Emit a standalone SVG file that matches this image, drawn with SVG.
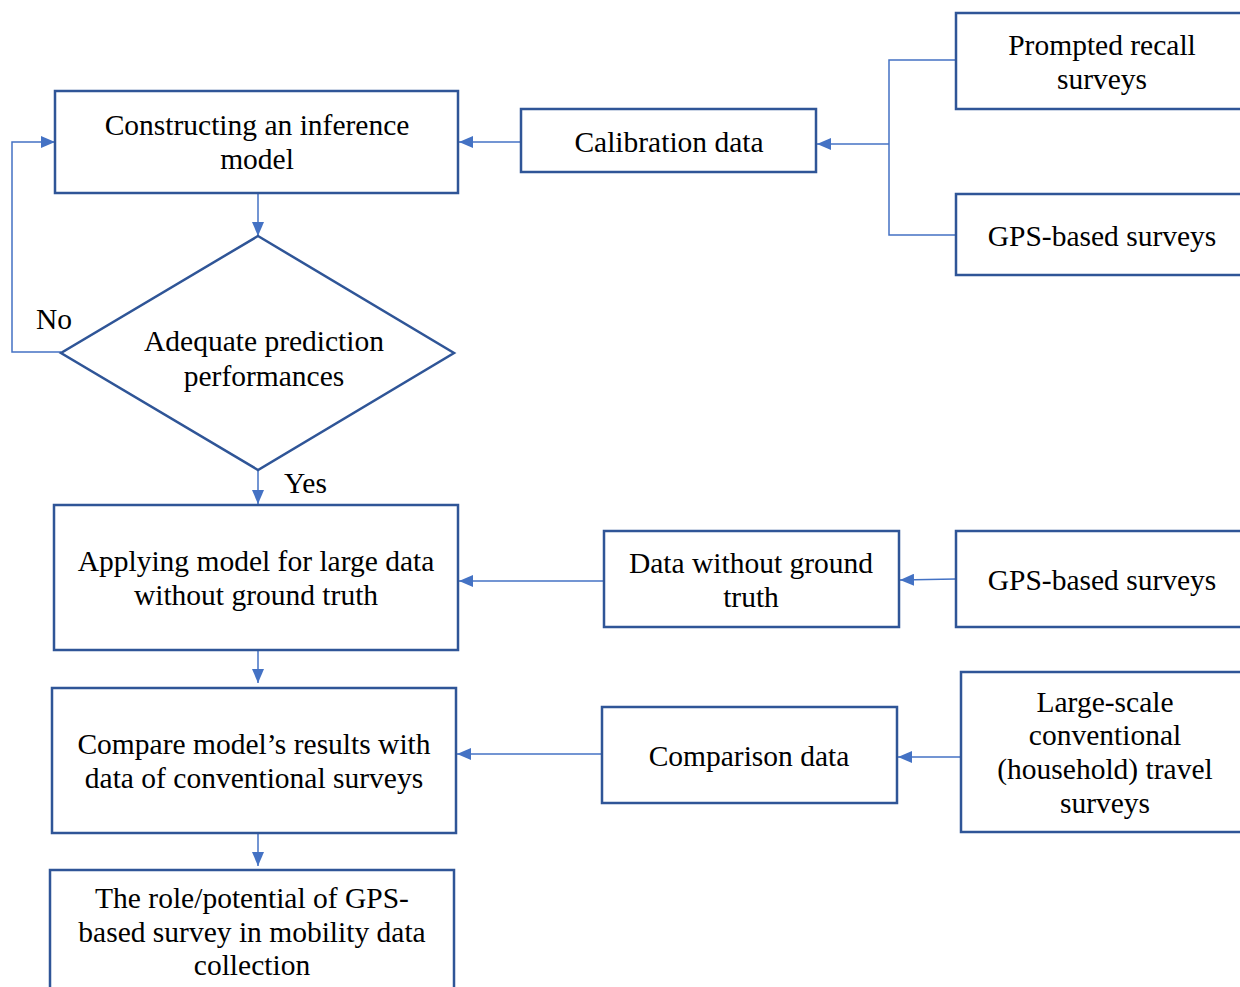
<svg xmlns="http://www.w3.org/2000/svg" width="1240" height="987" viewBox="0 0 1240 987">
  <style>
    .box { fill: #ffffff; stroke: #2F5597; stroke-width: 2.5; }
    .conn { fill: none; stroke: #4472C4; stroke-width: 1.5; }
    .lbl { font-family: "Liberation Serif", "Times New Roman", serif; font-size: 29.5px; fill: #000000; text-anchor: middle; }
    .tag { font-family: "Liberation Serif", "Times New Roman", serif; font-size: 29.5px; fill: #000000; }
  </style>
  <defs>
    <marker id="arrow" viewBox="0 0 14 12" refX="14" refY="6" markerWidth="14" markerHeight="12" markerUnits="userSpaceOnUse" orient="auto">
      <path d="M0,0 L14,6 L0,12 Z" fill="#4472C4"/>
    </marker>
  </defs>
  <rect width="1240" height="987" fill="#ffffff"/>

  <!-- connectors -->
  <g id="connectors">
    <!-- survey branches into calibration data -->
    <path class="conn" d="M956,60 H889 V235 H956"/>
    <path class="conn" d="M889,144 H817" marker-end="url(#arrow)"/>
    <!-- calibration data to inference model -->
    <path class="conn" d="M521,142 H459" marker-end="url(#arrow)"/>
    <!-- inference model to decision -->
    <path class="conn" d="M258,193 V236" marker-end="url(#arrow)"/>
    <!-- "No" loop back -->
    <path class="conn" d="M61,352 H12 V142 H55" marker-end="url(#arrow)"/>
    <!-- "Yes" down -->
    <path class="conn" d="M258,470 V504" marker-end="url(#arrow)"/>
    <!-- GPS surveys to data without ground truth -->
    <path class="conn" d="M956,579 L900,580" marker-end="url(#arrow)"/>
    <!-- data without ground truth to applying model -->
    <path class="conn" d="M604,581 H459" marker-end="url(#arrow)"/>
    <!-- applying model to compare -->
    <path class="conn" d="M258,650 V683" marker-end="url(#arrow)"/>
    <!-- travel surveys to comparison data -->
    <path class="conn" d="M961,757 H898" marker-end="url(#arrow)"/>
    <!-- comparison data to compare -->
    <path class="conn" d="M602,754 H457" marker-end="url(#arrow)"/>
    <!-- compare to final box -->
    <path class="conn" d="M258,833 V866" marker-end="url(#arrow)"/>
  </g>

  <g id="inference-model">
    <rect class="box" x="55" y="91" width="403" height="102"/>
    <text class="lbl" x="257" y="135">Constructing an inference</text>
    <text class="lbl" x="257" y="169">model</text>
  </g>

  <g id="calibration-data">
    <rect class="box" x="521" y="109" width="295" height="63"/>
    <text class="lbl" x="669" y="152">Calibration data</text>
  </g>

  <g id="prompted-recall">
    <rect class="box" x="956" y="13" width="300" height="96"/>
    <text class="lbl" x="1102" y="55">Prompted recall</text>
    <text class="lbl" x="1102" y="89">surveys</text>
  </g>

  <g id="gps-calibration">
    <rect class="box" x="956" y="194" width="300" height="81"/>
    <text class="lbl" x="1102" y="246">GPS-based surveys</text>
  </g>

  <g id="decision">
    <polygon class="box" points="258,236 454,353 258,470 61,353"/>
    <text class="lbl" x="264" y="351">Adequate prediction</text>
    <text class="lbl" x="264" y="386">performances</text>
  </g>
  <text class="tag" x="36" y="329">No</text>
  <text class="tag" x="284" y="493">Yes</text>

  <g id="applying-model">
    <rect class="box" x="54" y="505" width="404" height="145"/>
    <text class="lbl" x="256" y="571">Applying model for large data</text>
    <text class="lbl" x="256" y="605">without ground truth</text>
  </g>

  <g id="data-without-ground-truth">
    <rect class="box" x="604" y="531" width="295" height="96"/>
    <text class="lbl" x="751" y="573">Data without ground</text>
    <text class="lbl" x="751" y="607">truth</text>
  </g>

  <g id="gps-unlabelled">
    <rect class="box" x="956" y="531" width="300" height="96"/>
    <text class="lbl" x="1102" y="590">GPS-based surveys</text>
  </g>

  <g id="compare-results">
    <rect class="box" x="52" y="688" width="404" height="145"/>
    <text class="lbl" x="254" y="754">Compare model’s results with</text>
    <text class="lbl" x="254" y="788">data of conventional surveys</text>
  </g>

  <g id="comparison-data">
    <rect class="box" x="602" y="707" width="295" height="96"/>
    <text class="lbl" x="749" y="766">Comparison data</text>
  </g>

  <g id="travel-surveys">
    <rect class="box" x="961" y="672" width="300" height="160"/>
    <text class="lbl" x="1105" y="712">Large-scale</text>
    <text class="lbl" x="1105" y="745">conventional</text>
    <text class="lbl" x="1105" y="779">(household) travel</text>
    <text class="lbl" x="1105" y="813">surveys</text>
  </g>

  <g id="gps-role">
    <rect class="box" x="50" y="870" width="404" height="140"/>
    <text class="lbl" x="252" y="908">The role/potential of GPS-</text>
    <text class="lbl" x="252" y="942">based survey in mobility data</text>
    <text class="lbl" x="252" y="975">collection</text>
  </g>
</svg>
